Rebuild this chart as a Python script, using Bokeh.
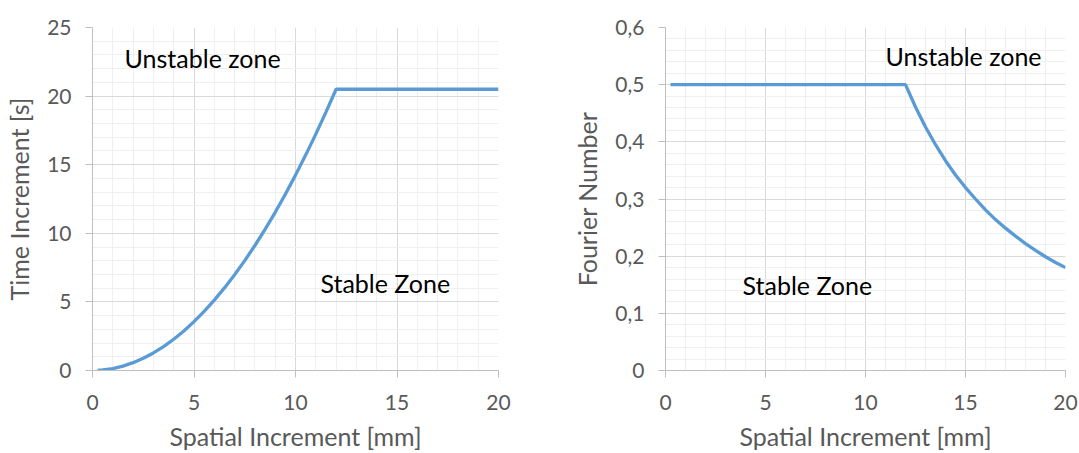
from bokeh.plotting import figure
from bokeh.layouts import row
from bokeh.models import Range1d, FixedTicker, CustomJSTickFormatter, Label
from bokeh.embed import file_html
from bokeh.resources import INLINE

# Spatial increment [mm]
dx = [0.25, 0.5, 1, 1.5, 2, 2.5, 3, 3.5, 4, 4.5, 5, 5.5, 6, 6.5, 7, 7.5, 8, 8.5,
      9, 9.5, 10, 10.5, 11, 11.5, 12, 12.5, 13, 13.5, 14, 14.5, 15, 15.5, 16,
      16.5, 17, 17.5, 18, 18.5, 19, 19.5, 20]
# Maximum stable time increment [s]
dt = [0.01, 0.04, 0.14, 0.32, 0.57, 0.89, 1.28, 1.74, 2.28, 2.88, 3.56, 4.31,
      5.13, 6.02, 6.98, 8.01, 9.11, 10.29, 11.53, 12.85, 14.24, 15.70, 17.23,
      18.83, 20.5, 20.5, 20.5, 20.5, 20.5, 20.5, 20.5, 20.5, 20.5, 20.5, 20.5,
      20.5, 20.5, 20.5, 20.5, 20.5, 20.5]
# Fourier number used at each spatial increment
fo = [0.5, 0.5, 0.5, 0.5, 0.5, 0.5, 0.5, 0.5, 0.5, 0.5, 0.5, 0.5, 0.5, 0.5,
      0.5, 0.5, 0.5, 0.5, 0.5, 0.5, 0.5, 0.5, 0.5, 0.5, 0.5, 0.461, 0.426,
      0.395, 0.367, 0.342, 0.32, 0.30, 0.281, 0.264, 0.249, 0.235, 0.222,
      0.21, 0.199, 0.189, 0.18]

x_major = [0, 5, 10, 15, 20]
x_minor = list(range(0, 21))
dt_major = [0, 5, 10, 15, 20, 25]
dt_minor = list(range(0, 26))
fo_major = [0, 0.1, 0.2, 0.3, 0.4, 0.5, 0.6]
fo_minor = [round(i * 0.02, 2) for i in range(0, 31)]

FONT = "Lato"
LINE = "#5B9BD5"
TXT = "#595959"
TICK_SIZE = "21px"
TITLE_SIZE = "25px"
NOTE_SIZE = "25px"


def base(width, border_left, border_right, y_range, y_ticks, y_minor, y_title):
    p = figure(width=width, height=453, output_backend="svg", toolbar_location=None,
               x_range=Range1d(0, 20), y_range=y_range,
               min_border_left=border_left, min_border_right=border_right,
               min_border_top=27, min_border_bottom=83)
    p.outline_line_color = None
    p.background_fill_color = "white"
    p.border_fill_color = "white"

    p.xaxis.ticker = FixedTicker(ticks=x_major, minor_ticks=x_minor)
    p.yaxis.ticker = FixedTicker(ticks=y_ticks, minor_ticks=y_minor)

    for ax in (p.xaxis[0], p.yaxis[0]):
        ax.axis_line_color = "#bfbfbf"
        ax.axis_line_width = 1
        ax.major_tick_line_color = "#bfbfbf"
        ax.major_tick_in = 0
        ax.major_tick_out = 7
        ax.minor_tick_line_color = None
        ax.major_label_text_font = FONT
        ax.major_label_text_font_size = TICK_SIZE
        ax.major_label_text_color = TXT
        ax.axis_label_text_font = FONT
        ax.axis_label_text_font_size = TITLE_SIZE
        ax.axis_label_text_color = TXT
        ax.axis_label_text_font_style = "normal"

    p.xaxis.axis_label = "Spatial Increment [mm]"
    p.yaxis.axis_label = y_title
    p.xaxis.major_label_standoff = 17
    p.yaxis.major_label_standoff = 14
    p.xaxis.axis_label_standoff = 8
    p.yaxis.axis_label_standoff = 10

    p.xgrid.grid_line_color = "#d9d9d9"
    p.ygrid.grid_line_color = "#d9d9d9"
    p.xgrid.minor_grid_line_color = "#efefef"
    p.ygrid.minor_grid_line_color = "#efefef"
    return p


def note(p, x, y, text):
    p.add_layout(Label(x=x, y=y, text=text, text_font=FONT, text_font_size=NOTE_SIZE,
                       text_color="black", text_baseline="middle"))


left = base(540, 92, 42, Range1d(0, 25), dt_major, dt_minor, "Time Increment [s]")
left.line(dx, dt, line_color=LINE, line_width=3.3)
note(left, 1.58, 22.8, "Unstable zone")
note(left, 11.23, 6.41, "Stable Zone")

right = base(539, 125, 14, Range1d(0, 0.6), fo_major, fo_minor, "Fourier Number")
right.yaxis.formatter = CustomJSTickFormatter(
    code="return tick == 0 ? '0' : tick.toFixed(1).replace('.', ',');")
right.line(dx, fo, line_color=LINE, line_width=3.3)
note(right, 11.0, 0.551, "Unstable zone")
note(right, 3.85, 0.149, "Stable Zone")

page = row(left, right)
open("out.html", "w").write(file_html(page, INLINE))
